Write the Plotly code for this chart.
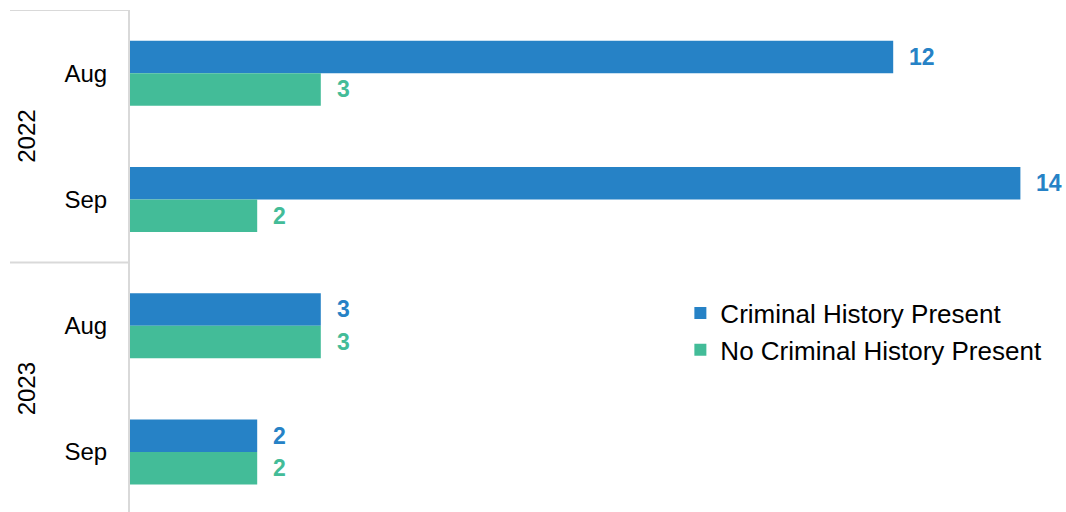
import plotly.graph_objects as go

# Data
years = ["2022", "2022", "2023", "2023"]
months = ["Aug", "Sep", "Aug", "Sep"]
criminal_history = [12, 14, 3, 2]
no_criminal_history = [3, 2, 3, 2]
series_names = ["Criminal History Present", "No Criminal History Present"]

BLUE = "#2682C6"
GREEN = "#43BC98"
FONT = "Liberation Sans, Arial, sans-serif"

cats = [f"{y} {m}" for y, m in zip(years, months)]

fig = go.Figure()
for name, vals, color in [
    (series_names[0], criminal_history, BLUE),
    (series_names[1], no_criminal_history, GREEN),
]:
    fig.add_trace(go.Bar(
        y=cats, x=vals, name=name, orientation="h",
        marker=dict(color=color, line=dict(width=0)),
    ))

# Value labels beside each bar
for s, (vals, color) in enumerate([(criminal_history, BLUE), (no_criminal_history, GREEN)]):
    for i, v in enumerate(vals):
        fig.add_annotation(
            x=v, y=i, yshift=(16.3 if s == 0 else -16.3),
            text=f"<b>{v}</b>", showarrow=False,
            xanchor="left", xshift=14,
            font=dict(family=FONT, size=23, color=color),
        )

# Year group labels and dividers
unique_years = []
for y in years:
    if y not in unique_years:
        unique_years.append(y)
for yr in unique_years:
    idx = [i for i, y in enumerate(years) if y == yr]
    mid = (idx[0] + idx[-1]) / 2
    fig.add_annotation(
        xref="paper", yref="y", x=0, y=mid, xshift=-119,
        text=yr, textangle=-90, showarrow=False,
        font=dict(family=FONT, size=24, color="#000000"),
    )
    fig.add_shape(
        type="line", xref="paper", yref="y",
        x0=-120 / 936, x1=0, y0=idx[0] - 0.5, y1=idx[0] - 0.5,
        line=dict(color="#D9D9D9", width=2),
    )

fig.update_layout(
    width=1066, height=512,
    margin=dict(l=130, r=0, t=10, b=0),
    paper_bgcolor="white", plot_bgcolor="white",
    barmode="group", bargap=0.485, bargroupgap=0,
    font=dict(family=FONT, color="#000000"),
    showlegend=True,
    legend=dict(
        x=0.588, y=0.443, xanchor="left", yanchor="top",
        traceorder="normal",
        font=dict(family=FONT, size=26, color="#000000"),
        bgcolor="rgba(0,0,0,0)", tracegroupgap=0, itemwidth=30,
    ),
    xaxis=dict(
        range=[0, 936 / 63.6], showgrid=False, zeroline=False,
        showticklabels=False, showline=False, fixedrange=True,
    ),
    yaxis=dict(
        range=[3.475, -0.5], type="category",
        tickmode="array", tickvals=cats, ticktext=months,
        tickfont=dict(family=FONT, size=24, color="#000000"),
        showline=True, linecolor="#D9D9D9", linewidth=2,
        showgrid=False, ticks="", ticklabelstandoff=16,
    ),
)

fig.write_html("out.html")
